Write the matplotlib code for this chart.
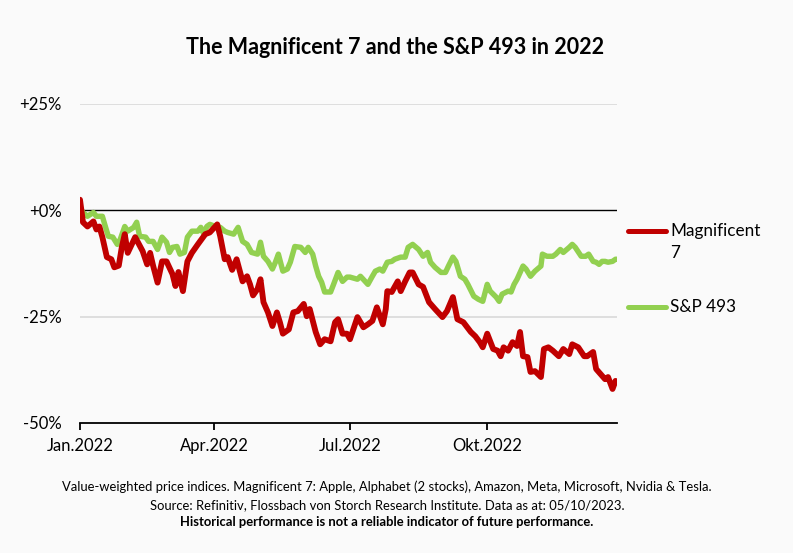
import numpy as np
import pandas as pd
import matplotlib.pyplot as plt
from matplotlib.lines import Line2D

plt.rcParams['font.family'] = ['Lato', 'DejaVu Sans']

# days since 1 Jan 2022 and performance in %
mag7_days = [0, 2, 5, 9, 11, 13, 15, 18, 21, 23, 26, 28, 30, 32, 37, 42, 45, 47, 49, 52,
             55, 58, 62, 64, 66, 69, 72, 75, 79, 84, 87, 92, 94, 97, 99, 102, 105, 109, 112, 114,
             116, 119, 121, 123, 126, 129, 132, 134, 136, 140, 143, 146, 150, 152, 154, 158, 161, 164, 168, 171,
             173, 176, 179, 181, 186, 190, 193, 196, 199, 203, 205, 206, 209, 213, 215, 218, 221, 223, 227, 230,
             234, 238, 243, 246, 250, 253, 257, 262, 265, 268, 270, 273, 277, 280, 282, 284, 287, 290, 293, 295,
             297, 300, 302, 305, 309, 311, 314, 317, 321, 324, 328, 330, 334, 338, 340, 344, 346, 349, 352, 354,
             357, 359, 360]
mag7 = [2.5, -2.8, -3.8, -2.6, -4.5, -3.8, -6.3, -11, -11.5, -13.4, -13, -8.7, -5.6, -10, -6.3, -9.6, -12.7, -10, -13, -17,
        -12, -12, -15, -17.8, -14.5, -19, -12, -10, -8, -5.6, -5.2, -3.3, -6.1, -11.5, -11, -14, -11.5, -16.7, -15.5, -17.4,
        -20, -18.5, -16.2, -21.6, -24, -27.2, -24, -26.3, -29, -28, -24, -23.7, -22, -24.9, -23.2, -28.6, -31.5, -30.3, -30.8, -26.3,
        -25.6, -29, -29, -30.3, -25.1, -27.5, -26.8, -26, -22.8, -26.8, -23.2, -19, -19.2, -16.7, -19, -16.7, -14.6, -14.6, -17.4, -18,
        -21.6, -23.2, -25.1, -23.7, -20.4, -25.6, -26.3, -28.6, -29.6, -31, -32.2, -29, -32.6, -33, -34.3, -32.2, -33, -31, -31.9, -28.6,
        -34.3, -34.5, -38, -37.8, -39.2, -32.6, -32.2, -33, -34.3, -32.6, -33.8, -31.5, -32.2, -34.3, -34.3, -33.3, -37.3, -38.5, -39.7, -39.2,
        -42, -40.1, -40.4]

sp493_days = [0, 2, 5, 9, 11, 15, 17, 19, 22, 25, 27, 30, 32, 36, 38, 40, 44, 46, 49, 52,
              55, 58, 60, 62, 65, 67, 70, 72, 75, 79, 81, 83, 85, 87, 91, 94, 97, 99, 103, 106,
              109, 112, 115, 119, 121, 123, 126, 129, 131, 133, 136, 139, 141, 144, 148, 151, 153, 156, 158, 160,
              162, 164, 168, 170, 173, 176, 179, 181, 186, 188, 193, 196, 198, 201, 203, 206, 209, 211, 215, 218,
              220, 223, 227, 230, 233, 235, 238, 242, 245, 247, 250, 252, 255, 258, 260, 264, 267, 270, 273, 275,
              279, 281, 283, 287, 289, 291, 293, 297, 299, 302, 305, 309, 310, 313, 317, 319, 322, 324, 328, 330,
              332, 336, 339, 341, 344, 346, 348, 350, 352, 354, 357, 359, 360]
sp493 = [0.7, -0.5, -1.4, -0.5, -1.4, -1.4, -3.8, -6.1, -6.3, -8, -6.8, -3.8, -4.9, -4, -2.8, -6.1, -6.3, -7.3, -7.3, -9.2,
         -6.3, -7.5, -9.9, -8.7, -8.5, -10.3, -9.9, -6.3, -4.9, -4.9, -4, -5.6, -3.8, -3.3, -3.8, -4, -4.9, -5.2, -5.6, -4,
         -7.3, -8, -9.9, -10.3, -7.5, -10.8, -12, -13.8, -12.2, -10.3, -14.3, -13.8, -12.2, -8.5, -8.7, -9.9, -8.7, -10.3, -13.1, -15.5,
         -16.9, -19.2, -19.2, -17.4, -14.6, -16.7, -15.7, -15.7, -16.2, -15.5, -17.4, -15.5, -14.3, -13.8, -14.3, -12.2, -12, -11.5, -11, -11,
         -8.7, -8, -9.2, -10.8, -9.9, -12.2, -13.4, -14.6, -14.6, -13.1, -11, -12, -15.5, -16.2, -17.4, -20.2, -20.9, -21.4, -17.4, -19,
         -20.4, -21.4, -19.7, -19, -19.2, -17.4, -16.2, -13.1, -13.8, -15.5, -14.3, -13.1, -10.3, -10.8, -10.8, -10.3, -9.2, -9.9, -8.7, -8,
         -8.7, -10.8, -10.8, -10.3, -12, -12.2, -12.7, -12, -12, -12.2, -12, -11.5, -11.5]

tick_dates = ['2022-01-01', '2022-04-01', '2022-07-01', '2022-10-01']
tick_labels = ['Jan.2022', 'Apr.2022', 'Jul.2022', 'Okt.2022']
y_ticks = [25, 0, -25, -50]
y_labels = ['+25%', '+0%', '-25%', '-50%']

start = pd.Timestamp('2022-01-01')
mag7_x = start + pd.to_timedelta(mag7_days, unit='D')
sp493_x = start + pd.to_timedelta(sp493_days, unit='D')

red = '#C00000'
green = '#92D050'
bg = '#FAFAFA'

fig = plt.figure(figsize=(7.93, 5.53), dpi=100, facecolor=bg)
ax = fig.add_axes([80/793, 1 - 423/553, (617 - 80)/793, (423 - 104)/553])
ax.set_facecolor(bg)

ax.axhline(25, color='#d9d9d9', lw=1.2, zorder=1)
ax.axhline(-25, color='#d9d9d9', lw=1.2, zorder=1)
ax.axhline(0, color='black', lw=1.0, zorder=1)

ax.plot(mag7_x, mag7, color=red, lw=4.2, solid_capstyle='round', solid_joinstyle='round', zorder=3)
ax.plot(sp493_x, sp493, color=green, lw=3.9, solid_capstyle='round', solid_joinstyle='round', zorder=2)

ax.set_xlim(start, pd.Timestamp('2022-12-27'))
ax.set_ylim(-50, 25)

ax.set_xticks(pd.to_datetime(tick_dates))
ax.set_xticklabels(tick_labels, fontsize=12)
ax.set_yticks(y_ticks)
ax.set_yticklabels(y_labels, fontsize=12)

for s in ['top', 'right', 'left']:
    ax.spines[s].set_visible(False)
ax.spines['bottom'].set_linewidth(1.3)
ax.tick_params(axis='x', direction='out', length=5, width=1.3, pad=6)
ax.tick_params(axis='y', length=0, pad=13)

fig.text(395/793, 1 - 48/553, 'The Magnificent 7 and the S&P 493 in 2022',
         ha='center', va='center', fontsize=15.5, fontweight='bold')

# legend drawn by hand
fig.add_artist(Line2D([628/793, 666/793], [1 - 231/553] * 2, color=red, lw=3.6,
                      solid_capstyle='round', transform=fig.transFigure))
fig.add_artist(Line2D([628/793, 666/793], [1 - 307/553] * 2, color=green, lw=3.6,
                      solid_capstyle='round', transform=fig.transFigure))
fig.text(670/793, 1 - 231/553, 'Magnificent', ha='left', va='center', fontsize=12.3)
fig.text(670/793, 1 - 253/553, '7', ha='left', va='center', fontsize=12.3)
fig.text(670/793, 1 - 307/553, 'S&P 493', ha='left', va='center', fontsize=12.3)

fig.text(387/793, 1 - 487/553,
         'Value-weighted price indices. Magnificent 7: Apple, Alphabet (2 stocks), Amazon, Meta, Microsoft, Nvidia & Tesla.',
         ha='center', va='center', fontsize=9.4)
fig.text(387/793, 1 - 505/553,
         'Source: Refinitiv, Flossbach von Storch Research Institute. Data as at: 05/10/2023.',
         ha='center', va='center', fontsize=9.4)
fig.text(387/793, 1 - 522/553,
         'Historical performance is not a reliable indicator of future performance.',
         ha='center', va='center', fontsize=9.4, fontweight='bold')

fig.savefig('out.png', dpi=100, facecolor=bg)
